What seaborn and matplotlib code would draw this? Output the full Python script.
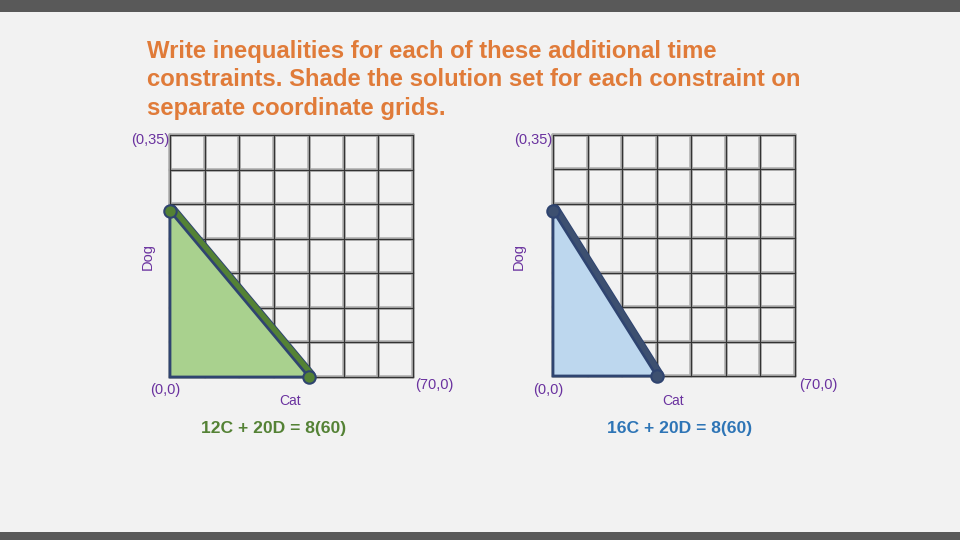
import matplotlib
matplotlib.use("Agg")
import matplotlib.pyplot as plt
import matplotlib.patheffects as pe
import matplotlib.transforms as mtransforms
import seaborn as sns
import pandas as pd

# ---- data ----
title_text = ("Write inequalities for each of these additional time\n"
              "constraints. Shade the solution set for each constraint on\n"
              "separate coordinate grids.")
equations = ["12C + 20D = 8(60)", "16C + 20D = 8(60)"]
cat_intercepts = [40, 30]      # C-axis intercepts
dog_intercepts = [24, 24]      # D-axis intercepts
x_max = 70
y_max = 35
x_step = 10
y_step = 5
corner_labels = ["(0,35)", "(0,0)", "(70,0)"]
axis_labels = ["Cat", "Dog"]

# ---- style ----
BG = "#f2f2f2"
BAND = "#595959"
ORANGE = "#e07b39"
PURPLE = "#6a329f"
fill_colors = ["#a9d18e", "#bdd7ee"]
line_colors = ["#548235", "#3d5070"]
eq_colors = ["#548235", "#2e75b6"]
EDGE = "#2f4470"

sns.set_theme(style="white")
plt.rcParams['font.family'] = ['Liberation Sans', 'DejaVu Sans']

fig = plt.figure(figsize=(9.6, 5.4), dpi=100)
fig.patch.set_facecolor(BG)

# dark bands top and bottom
fig.patches.append(plt.Rectangle((0, 1 - 12 / 540), 1, 12 / 540, transform=fig.transFigure,
                                 facecolor=BAND, edgecolor="none", zorder=0))
fig.patches.append(plt.Rectangle((0, 0), 1, 8 / 540, transform=fig.transFigure,
                                 facecolor=BAND, edgecolor="none", zorder=0))

fig.text(147 / 960, 1 - 40 / 540, title_text, color=ORANGE, fontsize=17.2,
         fontweight="bold", ha="left", va="top", linespacing=1.3)

axes_px = [(170, 135, 413, 377), (553, 135, 795, 376)]

for i, (x0, y0, x1, y1) in enumerate(axes_px):
    ax = fig.add_axes([x0 / 960, 1 - y1 / 540, (x1 - x0) / 960, (y1 - y0) / 540])
    ax.set_facecolor(BG)
    ax.set_xlim(0, x_max)
    ax.set_ylim(0, y_max)
    for s in ax.spines.values():
        s.set_visible(False)
    ax.set_xticks([])
    ax.set_yticks([])
    # grid
    for gx in range(0, x_max + 1, x_step):
        ax.axvline(gx, color="#b0b0b0", lw=2.6, zorder=1, clip_on=False)
        ax.axvline(gx, color="#333333", lw=0.9, zorder=1.1, clip_on=False)
    for gy in range(0, y_max + 1, y_step):
        ax.axhline(gy, color="#b0b0b0", lw=2.6, zorder=1, clip_on=False)
        ax.axhline(gy, color="#333333", lw=0.9, zorder=1.1, clip_on=False)

    c = cat_intercepts[i]
    d = dog_intercepts[i]
    ax.fill([0, 0, c], [0, d, 0], facecolor=fill_colors[i], edgecolor=EDGE,
            lw=2.0, zorder=3, clip_on=False, joinstyle="miter")

    df = pd.DataFrame({"Cat": [0, c], "Dog": [d, 0]})
    off = mtransforms.offset_copy(ax.transData, fig=fig, x=2.8, y=2.8, units="dots")
    sns.lineplot(data=df, x="Cat", y="Dog", ax=ax, color=line_colors[i], lw=3.8,
                 zorder=4, transform=off, clip_on=False,
                 path_effects=[pe.Stroke(linewidth=5.2, foreground=EDGE), pe.Normal()])
    sns.scatterplot(data=df, x="Cat", y="Dog", ax=ax, color=line_colors[i], s=80,
                    edgecolor=EDGE, linewidth=1.5, zorder=5, clip_on=False)
    ax.set_xlabel("")
    ax.set_ylabel("")

    # labels (pixel positions relative to the figure)
    def ftxt(px, py, s, **kw):
        fig.text(px / 960, 1 - py / 540, s, **kw)

    dx = x0 - 170
    ftxt(x0 - 1, y0 + 5, corner_labels[0], color=PURPLE, fontsize=10.5, ha="right", va="center")
    ftxt(x0 - 5, 390, corner_labels[1], color=PURPLE, fontsize=10.5, ha="center", va="center")
    ftxt(434 + dx + (1 if i else 0), 385, corner_labels[2], color=PURPLE, fontsize=10.5,
         ha="center", va="center")
    ftxt(290 + dx, 401, axis_labels[0], color=PURPLE, fontsize=10, ha="center", va="center")
    ftxt(148 + dx - 12 * i, 256, axis_labels[1], color=PURPLE, fontsize=10.5, ha="center",
         va="center", rotation=90)
    ftxt(274 + 406 * i, 428, equations[i], color=eq_colors[i], fontsize=12.6,
         fontweight="bold", ha="center", va="center")

fig.savefig("out.png", dpi=100, facecolor=BG)
